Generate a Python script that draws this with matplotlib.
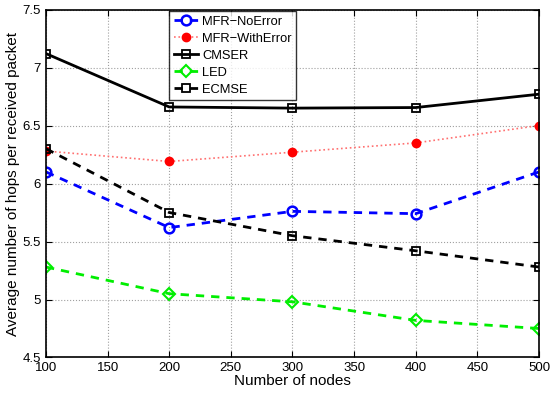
import matplotlib
matplotlib.use("Agg")
import matplotlib.pyplot as plt

plt.rcParams['font.family'] = ['Liberation Sans', 'DejaVu Sans']

nodes = [100, 200, 300, 400, 500]
mfr_no_error = [6.10, 5.62, 5.76, 5.74, 6.10]
mfr_with_error = [6.28, 6.19, 6.27, 6.35, 6.50]
cmser = [7.12, 6.66, 6.65, 6.655, 6.77]
led = [5.28, 5.05, 4.98, 4.82, 4.75]
ecmse = [6.30, 5.75, 5.55, 5.42, 5.28]

fig = plt.figure(figsize=(5.5, 3.97), dpi=100)
ax = fig.add_axes([0.0836, 0.0995, 0.8964, 0.8765])

ax.plot(nodes, mfr_no_error, '--', color='blue', lw=2, marker='o', ms=7,
        mfc='none', mew=1.8, dashes=(3, 2.5), label='MFR\u2212NoError')
ax.plot(nodes, mfr_with_error, ':', color='#ff7070', lw=1.2, marker='o', ms=6,
        mfc='red', mec='red', label='MFR\u2212WithError')
ax.plot(nodes, cmser, '-', color='black', lw=2, marker='s', ms=6,
        mfc='none', mew=1.3, label='CMSER')
ax.plot(nodes, led, '--', color='#00ee00', lw=2, marker='D', ms=6,
        mfc='none', mew=1.5, dashes=(3, 2.5), label='LED')
ax.plot(nodes, ecmse, '--', color='black', lw=2, marker='s', ms=6,
        mfc='none', mew=1.3, dashes=(3, 2.5), label='ECMSE')

ax.set_xlim(100, 500)
ax.set_ylim(4.5, 7.5)
ax.set_xticks(range(100, 501, 50))
ax.set_yticks([4.5, 5, 5.5, 6, 6.5, 7, 7.5])
ax.set_yticklabels(['4.5', '5', '5.5', '6', '6.5', '7', '7.5'])
ax.grid(True, ls=':', color='#a0a0a0', lw=0.8)
ax.tick_params(direction='in', top=True, right=True, labelsize=9.5, length=4)
for s in ax.spines.values():
    s.set_linewidth(1.2)

ax.set_xlabel('Number of nodes', fontsize=11, labelpad=0)
ax.set_ylabel('Average number of hops per received packet', fontsize=11, labelpad=2)

leg = ax.legend(loc='upper left', bbox_to_anchor=(0.25, 0.995), fontsize=9.3,
                frameon=True, fancybox=False, edgecolor='black', handlelength=1.9,
                handletextpad=0.3, borderpad=0.35, labelspacing=0.38, borderaxespad=0)
leg.get_frame().set_linewidth(1)

fig.savefig('out.png', dpi=100)
